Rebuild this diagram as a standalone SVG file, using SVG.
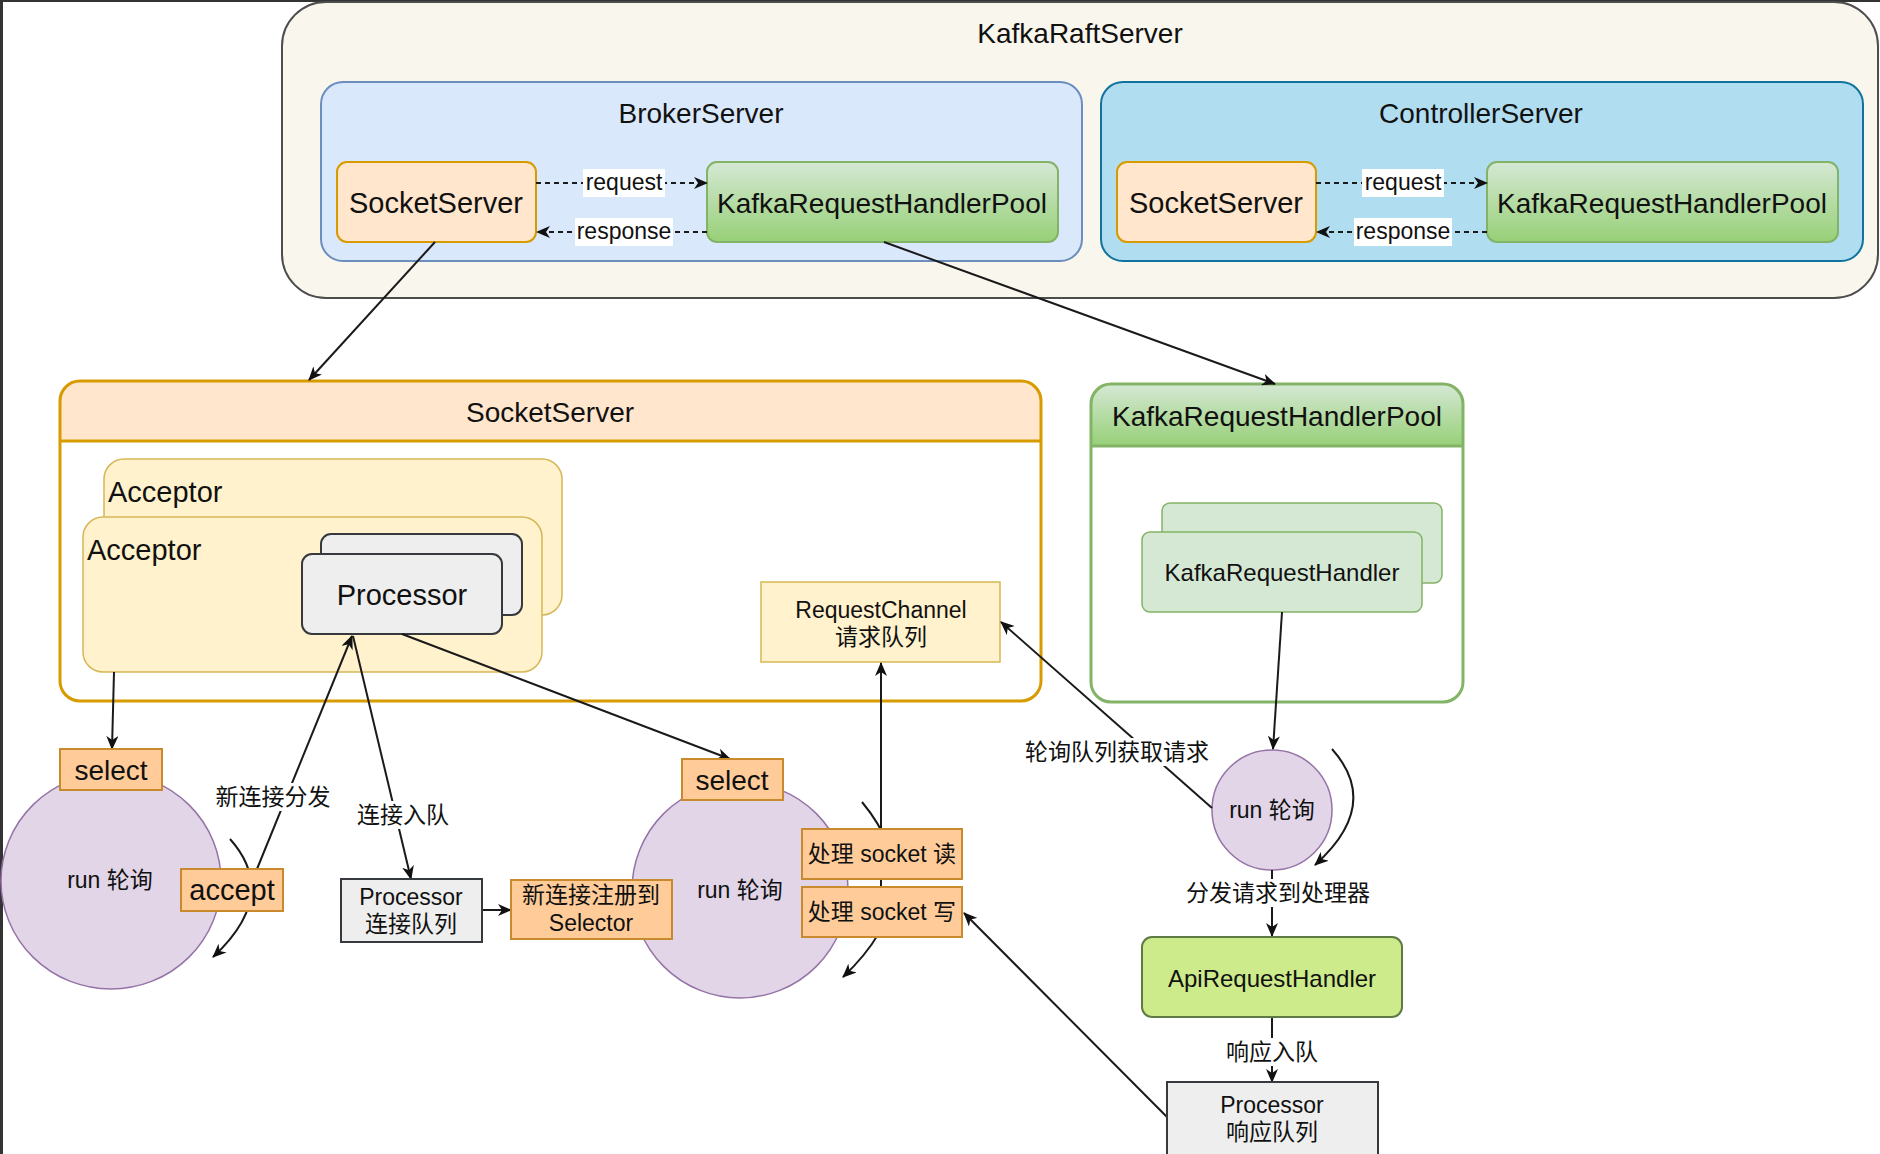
<svg xmlns="http://www.w3.org/2000/svg" width="1880" height="1154" viewBox="0 0 1880 1154">
<defs>
<linearGradient id="gGreen" x1="0" y1="0" x2="0" y2="1"><stop offset="0" stop-color="#d5e8d4"/><stop offset="1" stop-color="#97d077"/></linearGradient>
<marker id="arr" viewBox="0 0 14 12" refX="13" refY="6" markerWidth="14" markerHeight="12" markerUnits="userSpaceOnUse" orient="auto"><path d="M0,0 L14,6 L0,12 L4,6 Z" fill="#111" stroke="none"/></marker>
<style>
text{font-family:"Liberation Sans",Arial,"Noto Sans CJK SC",sans-serif;fill:#111111;text-anchor:middle;dominant-baseline:central}
.t28{font-size:28px}.t29{font-size:29px}.t23{font-size:23px}.t24{font-size:24px}
.orange{fill:#ffe6cc;stroke:#d79b00;stroke-width:2}
.green{fill:url(#gGreen);stroke:#82b366;stroke-width:2}
.yellow{fill:#fff2cc;stroke:#d6b656;stroke-width:1.5}
.gray{fill:#eeeeee;stroke:#36393d;stroke-width:2}
.tag{fill:#ffcc99;stroke:#c98a2e;stroke-width:2}
.purple{fill:#e1d5e7;stroke:#9673a6;stroke-width:1.5}
.lgreen{fill:#d5e8d4;stroke:#82b366;stroke-width:1.5}
.ln{fill:none;stroke:#1a1a1a;stroke-width:2;marker-end:url(#arr)}
.dash{stroke-dasharray:5 4}
.bg{fill:#ffffff}
</style>
</defs>
<rect x="0" y="0" width="1880" height="1154" fill="#ffffff"/>
<rect x="0" y="0" width="3" height="1154" fill="#333"/>
<rect x="0" y="0" width="1880" height="2" fill="#333"/>

<g id="kafkaRaftServer">
<rect x="282" y="2" width="1596" height="296" rx="44" fill="#f9f7ed" stroke="#4d4d4d" stroke-width="2"/>
<text class="t28" x="1080" y="33">KafkaRaftServer</text>
</g>
<g id="brokerServer">
<rect x="321" y="82" width="761" height="179" rx="22" fill="#dae8fc" stroke="#6c8ebf" stroke-width="2"/>
<text class="t28" x="701" y="113">BrokerServer</text>
</g>
<g id="controllerServer">
<rect x="1101" y="82" width="762" height="179" rx="22" fill="#b1ddf0" stroke="#10739e" stroke-width="2"/>
<text class="t28" x="1481" y="113">ControllerServer</text>
</g>
<g id="brokerSocketServer">
<rect class="orange" x="337" y="162" width="199" height="80" rx="10"/>
<text class="t29" x="436" y="203">SocketServer</text>
</g>
<g id="brokerHandlerPool">
<rect class="green" x="707" y="162" width="351" height="80" rx="10"/>
<text class="t28" x="882" y="203">KafkaRequestHandlerPool</text>
</g>
<g id="ctrlSocketServer">
<rect class="orange" x="1117" y="162" width="199" height="80" rx="10"/>
<text class="t29" x="1216" y="203">SocketServer</text>
</g>
<g id="ctrlHandlerPool">
<rect class="green" x="1487" y="162" width="351" height="80" rx="10"/>
<text class="t28" x="1662" y="203">KafkaRequestHandlerPool</text>
</g>

<g id="socketServer">
<rect x="60" y="381" width="981" height="320" rx="20" fill="#ffffff"/>
<path d="M60,441 V401 Q60,381 80,381 H1021 Q1041,381 1041,401 V441 Z" fill="#ffe6cc"/>
<line x1="60" y1="441" x2="1041" y2="441" stroke="#d79b00" stroke-width="3"/>
<rect x="60" y="381" width="981" height="320" rx="20" fill="none" stroke="#d79b00" stroke-width="3"/>
<text class="t28" x="550" y="412">SocketServer</text>
</g>
<g id="acceptorBack">
<rect class="yellow" x="104" y="459" width="458" height="156" rx="20"/>
<text class="t29" x="108" y="492" style="text-anchor:start">Acceptor</text>
</g>
<g id="acceptorFront">
<rect class="yellow" x="83" y="517" width="459" height="155" rx="20"/>
<text class="t29" x="87" y="550" style="text-anchor:start">Acceptor</text>
</g>
<g id="processorBack">
<rect class="gray" x="321" y="534" width="201" height="81" rx="10"/>
</g>
<g id="processor">
<rect class="gray" x="302" y="554" width="200" height="80" rx="10"/>
<text class="t29" x="402" y="595">Processor</text>
</g>
<g id="requestChannel">
<rect class="yellow" x="761" y="582" width="239" height="80"/>
<text class="t23" x="881" y="610">RequestChannel</text>
<text class="t23" x="881" y="637">请求队列</text>
</g>

<g id="handlerPool">
<rect x="1091" y="384" width="372" height="318" rx="20" fill="#ffffff"/>
<path d="M1091,446 V404 Q1091,384 1111,384 H1443 Q1463,384 1463,404 V446 Z" fill="url(#gGreen)"/>
<line x1="1091" y1="446" x2="1463" y2="446" stroke="#82b366" stroke-width="3"/>
<rect x="1091" y="384" width="372" height="318" rx="20" fill="none" stroke="#82b366" stroke-width="3"/>
<text class="t28" x="1277" y="416">KafkaRequestHandlerPool</text>
</g>
<g id="handlerBack">
<rect class="lgreen" x="1162" y="503" width="280" height="80" rx="8"/>
</g>
<g id="handler">
<rect class="lgreen" x="1142" y="532" width="280" height="80" rx="8"/>
<text class="t24" x="1282" y="572">KafkaRequestHandler</text>
</g>

<g id="acceptorLoop">
<ellipse class="purple" cx="111" cy="881" rx="110" ry="108"/>
<text class="t23" x="110" y="880">run 轮询</text>
</g>
<g id="processorLoop">
<circle class="purple" cx="740" cy="890" r="108"/>
<text class="t23" x="740" y="890">run 轮询</text>
</g>
<g id="handlerLoop">
<circle class="purple" cx="1272" cy="810" r="60"/>
<text class="t23" x="1272" y="810">run 轮询</text>
</g>

<g id="connectors">
<line class="ln dash" x1="536" y1="183" x2="707" y2="183"/>
<rect class="bg" x="583" y="169" width="82" height="28"/>
<text class="t23" x="624" y="182">request</text>
<line class="ln dash" x1="707" y1="232" x2="537" y2="232"/>
<rect class="bg" x="575" y="218" width="98" height="28"/>
<text class="t23" x="624" y="231">response</text>
<line class="ln dash" x1="1316" y1="183" x2="1487" y2="183"/>
<rect class="bg" x="1362" y="169" width="82" height="28"/>
<text class="t23" x="1403" y="182">request</text>
<line class="ln dash" x1="1487" y1="232" x2="1317" y2="232"/>
<rect class="bg" x="1354" y="218" width="98" height="28"/>
<text class="t23" x="1403" y="231">response</text>

<line class="ln" x1="435" y1="242" x2="309" y2="380"/>
<line class="ln" x1="884" y1="242" x2="1275" y2="384"/>
<line class="ln" x1="114" y1="672" x2="112" y2="749"/>
<line class="ln" x1="257" y1="869" x2="352" y2="636"/>
<rect class="bg" x="215" y="783" width="116" height="28"/>
<text class="t23" x="273" y="797">新连接分发</text>
<line class="ln" x1="353" y1="636" x2="411" y2="879"/>
<rect class="bg" x="357" y="801" width="92" height="28"/>
<text class="t23" x="403" y="815">连接入队</text>
<line class="ln" x1="482" y1="910" x2="511" y2="910"/>
<line class="ln" x1="402" y1="634" x2="730" y2="759"/>
<path class="ln" d="M230,839 Q280,895 213,957"/>
<path class="ln" d="M862,802 Q935,890 843,977"/>
<rect class="bg" x="849" y="879" width="113" height="8"/>
<line class="ln" x1="881" y1="887" x2="881" y2="663"/>
<line class="ln" x1="1282" y1="612" x2="1273" y2="749"/>
<line class="ln" x1="1212" y1="808" x2="1001" y2="622"/>
<rect class="bg" x="1025" y="738" width="184" height="28"/>
<text class="t23" x="1117" y="752">轮询队列获取请求</text>
<path class="ln" d="M1332,749 Q1382,805 1315,865"/>
<line class="ln" x1="1272" y1="870" x2="1272" y2="936"/>
<rect class="bg" x="1186" y="879" width="184" height="28"/>
<text class="t23" x="1278" y="893">分发请求到处理器</text>
<line class="ln" x1="1272" y1="1017" x2="1272" y2="1082"/>
<rect class="bg" x="1226" y="1038" width="92" height="28"/>
<text class="t23" x="1272" y="1052">响应入队</text>
<line class="ln" x1="1167" y1="1117" x2="964" y2="913"/>
</g>

<g id="selectLeft">
<rect class="tag" x="60" y="749" width="102" height="41"/>
<text class="t28" x="111" y="770">select</text>
</g>
<g id="accept">
<rect class="tag" x="181" y="869" width="102" height="42"/>
<text class="t29" x="232" y="890">accept</text>
</g>
<g id="connQueue">
<rect class="gray" x="341" y="879" width="141" height="63" rx="0"/>
<text class="t23" x="411" y="897">Processor</text>
<text class="t23" x="411" y="924">连接队列</text>
</g>
<g id="registerSelector">
<rect class="tag" x="511" y="880" width="161" height="59"/>
<text class="t23" x="591" y="895">新连接注册到</text>
<text class="t23" x="591" y="923">Selector</text>
</g>
<g id="selectMid">
<rect class="tag" x="682" y="759" width="101" height="41"/>
<text class="t28" x="732" y="780">select</text>
</g>
<g id="socketRead">
<rect class="tag" x="802" y="829" width="160" height="50"/>
<text class="t23" x="882" y="854">处理 socket 读</text>
</g>
<g id="socketWrite">
<rect class="tag" x="802" y="887" width="160" height="50"/>
<text class="t23" x="882" y="912">处理 socket 写</text>
</g>
<g id="apiRequestHandler">
<rect x="1142" y="937" width="260" height="80" rx="10" fill="#cdeb8b" stroke="#5f7a45" stroke-width="2"/>
<text class="t24" x="1272" y="978">ApiRequestHandler</text>
</g>
<g id="respQueue">
<rect class="gray" x="1167" y="1082" width="211" height="80"/>
<text class="t23" x="1272" y="1105">Processor</text>
<text class="t23" x="1272" y="1132">响应队列</text>
</g>
</svg>
